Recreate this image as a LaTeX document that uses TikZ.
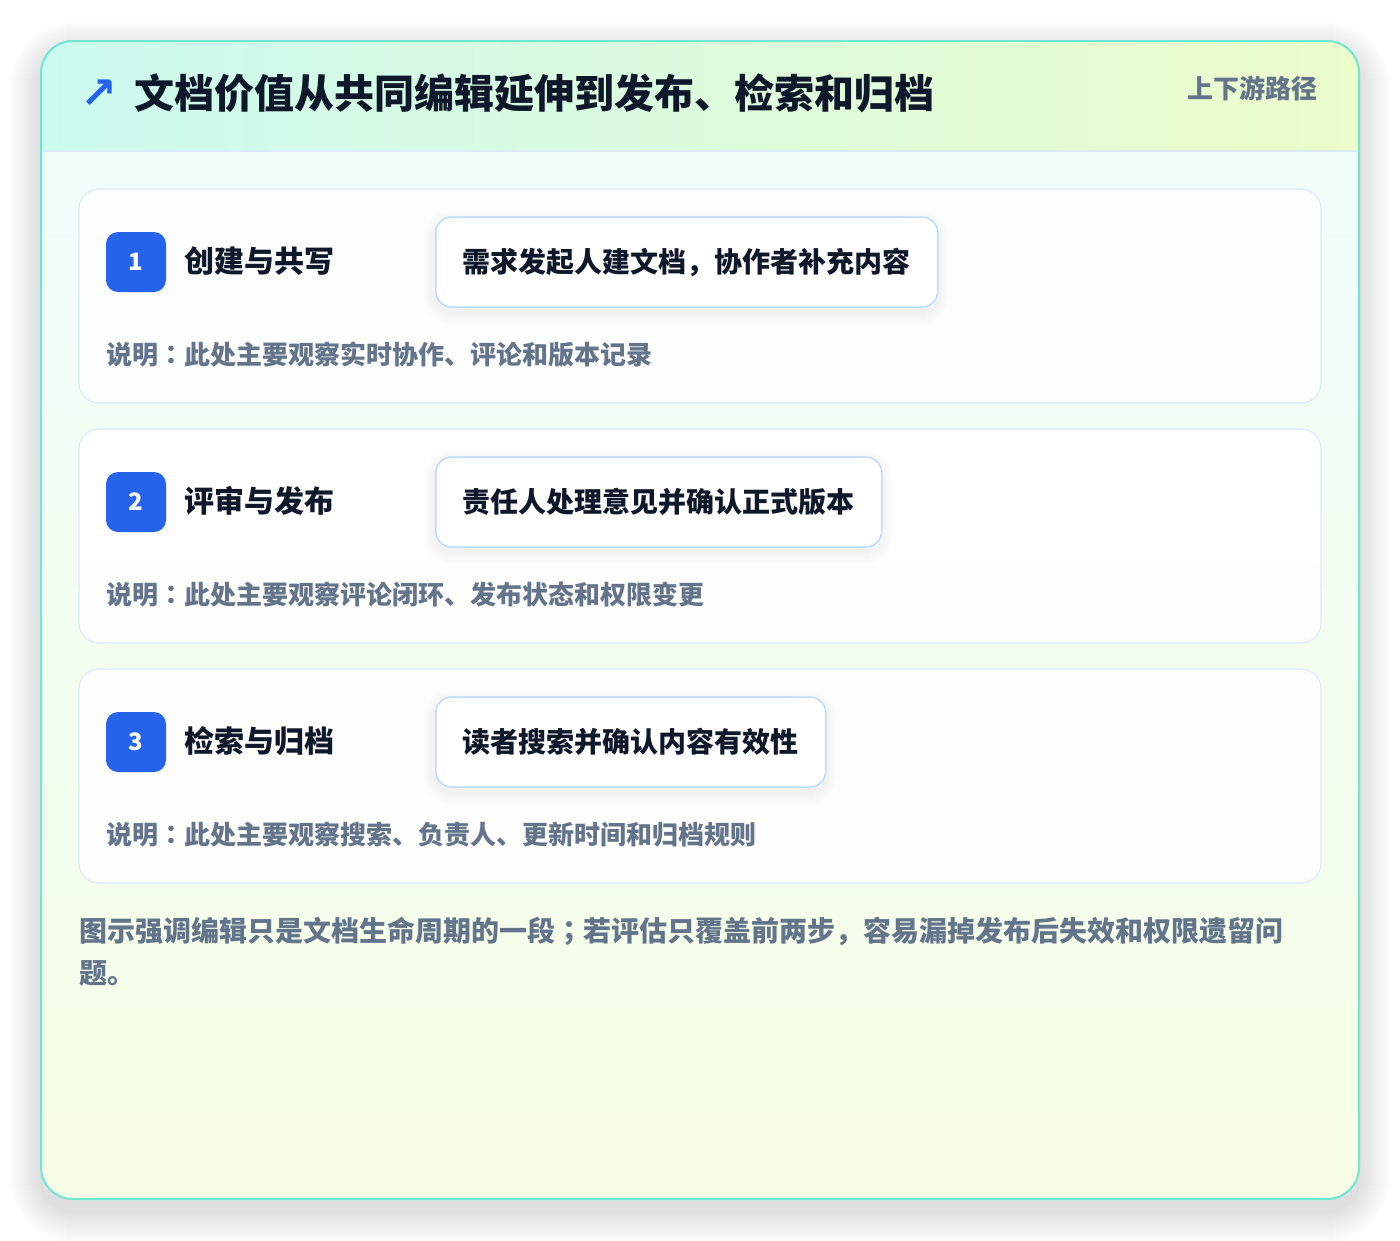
\documentclass[tikz,border=0pt]{standalone}
\usepackage{fontspec}
\setmainfont{Noto Sans CJK SC}
\newfontfamily\tcp{Noto Sans CJK KR}
\newfontfamily\symfont{DejaVu Sans}
\definecolor{ink}{HTML}{0F172A}
\definecolor{slate}{HTML}{64748B}
\definecolor{badgeblue}{HTML}{2563EB}
\definecolor{cardline}{HTML}{DBEAFE}
\definecolor{boxline}{HTML}{BFDBFE}
\definecolor{tealline}{HTML}{6EE7D3}
\definecolor{headl}{HTML}{CCFBEF}
\definecolor{headr}{HTML}{ECFCCB}
\definecolor{bodyt}{HTML}{F0FDF9}
\definecolor{bodyb}{HTML}{F6FEE6}
\newcommand\mysoftshadow[8]{% x1 y1 x2 y2 radius steps dy opacity
  \foreach \k in {1,...,#6}{%
    \fill[black, opacity=#8, rounded corners={#5pt+\k pt}] ({#1-\k},{#2-\k+#7}) rectangle ({#3+\k},{#4+\k+#7});
  }}
\tikzset{
  card/.style={draw=cardline, line width=1.2pt, fill=white, fill opacity=0.85, text opacity=1, rounded corners=20pt, minimum width=1242pt, minimum height=214pt, inner sep=0pt},
  badge/.style={fill=badgeblue, text=white, rounded corners=12pt, minimum width=60pt, minimum height=60pt, inner sep=0pt, font=\fontsize{24}{28}\selectfont\bfseries},
  steptitle/.style={anchor=west, text=ink, inner sep=0pt, font=\fontsize{30}{36}\selectfont\bfseries},
  actbox/.style={draw=boxline, line width=1.5pt, fill=white, rounded corners=16pt, minimum height=90pt, inner xsep=27pt, inner ysep=0pt, text=ink, font=\fontsize{28}{34}\selectfont\bfseries},
  notetext/.style={anchor=west, text=slate, inner sep=0pt, font=\fontsize{26}{32}\selectfont\bfseries},
}
\begin{document}
\begin{tikzpicture}[x=1pt,y=-1pt]
\useasboundingbox (0,0) rectangle (1400,1240);
\fill[white] (0,0) rectangle (1400,1240);
% outer shadow
\mysoftshadow{41}{41}{1359}{1199}{32}{32}{12}{0.0032}
\fill[white, rounded corners=32pt] (41,41) rectangle (1359,1199);
\begin{scope}
  \clip[rounded corners=32pt] (41,41) rectangle (1359,1199);
  \shade[top color=bodyt, bottom color=bodyb] (41,151) rectangle (1359,1199);
  \shade[left color=headl, right color=headr] (41,41) rectangle (1359,151);
\end{scope}
\draw[cardline, line width=1.2pt] (41,151) -- (1359,151);
\draw[tealline, line width=2pt, rounded corners=32pt] (41,41) rectangle (1359,1199);
% header
\node[anchor=center, text=badgeblue, inner sep=0pt, font=\symfont\fontsize{44}{48}\selectfont\bfseries] (arrow) at (99,94) {↗};
\node[anchor=west, text=ink, inner sep=0pt, font=\fontsize{40}{48}\selectfont\bfseries] (title) at (134,93) {文档价值从共同编辑延伸到发布、检索和归档};
\node[anchor=east, text=slate, inner sep=0pt, font=\fontsize{26}{32}\selectfont\bfseries] (tag) at (1318,88) {上下游路径};
% card 1
\node[card] (card1) at (700,296) {};
\node[badge] (b1) at (136,262) {1};
\node[steptitle] (t1) at (184,261) {创建与共写};
\mysoftshadow{435}{217}{937}{307}{16}{12}{5}{0.0045}
\node[actbox, anchor=west] (a1) at (435,262) {需求发起人建文档{\tcp ，}协作者补充内容};
\node[notetext] (n1) at (106,355) {说明{\tcp ：}此处主要观察实时协作、评论和版本记录};
% card 2
\node[card] (card2) at (700,536) {};
\node[badge] (b2) at (136,502) {2};
\node[steptitle] (t2) at (184,501) {评审与发布};
\mysoftshadow{435}{457}{881}{547}{16}{12}{5}{0.0045}
\node[actbox, anchor=west] (a2) at (435,502) {责任人处理意见并确认正式版本};
\node[notetext] (n2) at (106,595) {说明{\tcp ：}此处主要观察评论闭环、发布状态和权限变更};
% card 3
\node[card] (card3) at (700,776) {};
\node[badge] (b3) at (136,742) {3};
\node[steptitle] (t3) at (184,741) {检索与归档};
\mysoftshadow{435}{697}{825}{787}{16}{12}{5}{0.0045}
\node[actbox, anchor=west] (a3) at (435,742) {读者搜索并确认内容有效性};
\node[notetext] (n3) at (106,835) {说明{\tcp ：}此处主要观察搜索、负责人、更新时间和归档规则};
% footer text
\node[anchor=north west, text=slate, inner sep=0pt, align=left, font=\fontsize{28}{42}\selectfont\bfseries] (foot) at (79,917) {图示强调编辑只是文档生命周期的一段{\tcp ；}若评估只覆盖前两步{\tcp ，}容易漏掉发布后失效和权限遗留问\\题。};
\end{tikzpicture}
\end{document}
